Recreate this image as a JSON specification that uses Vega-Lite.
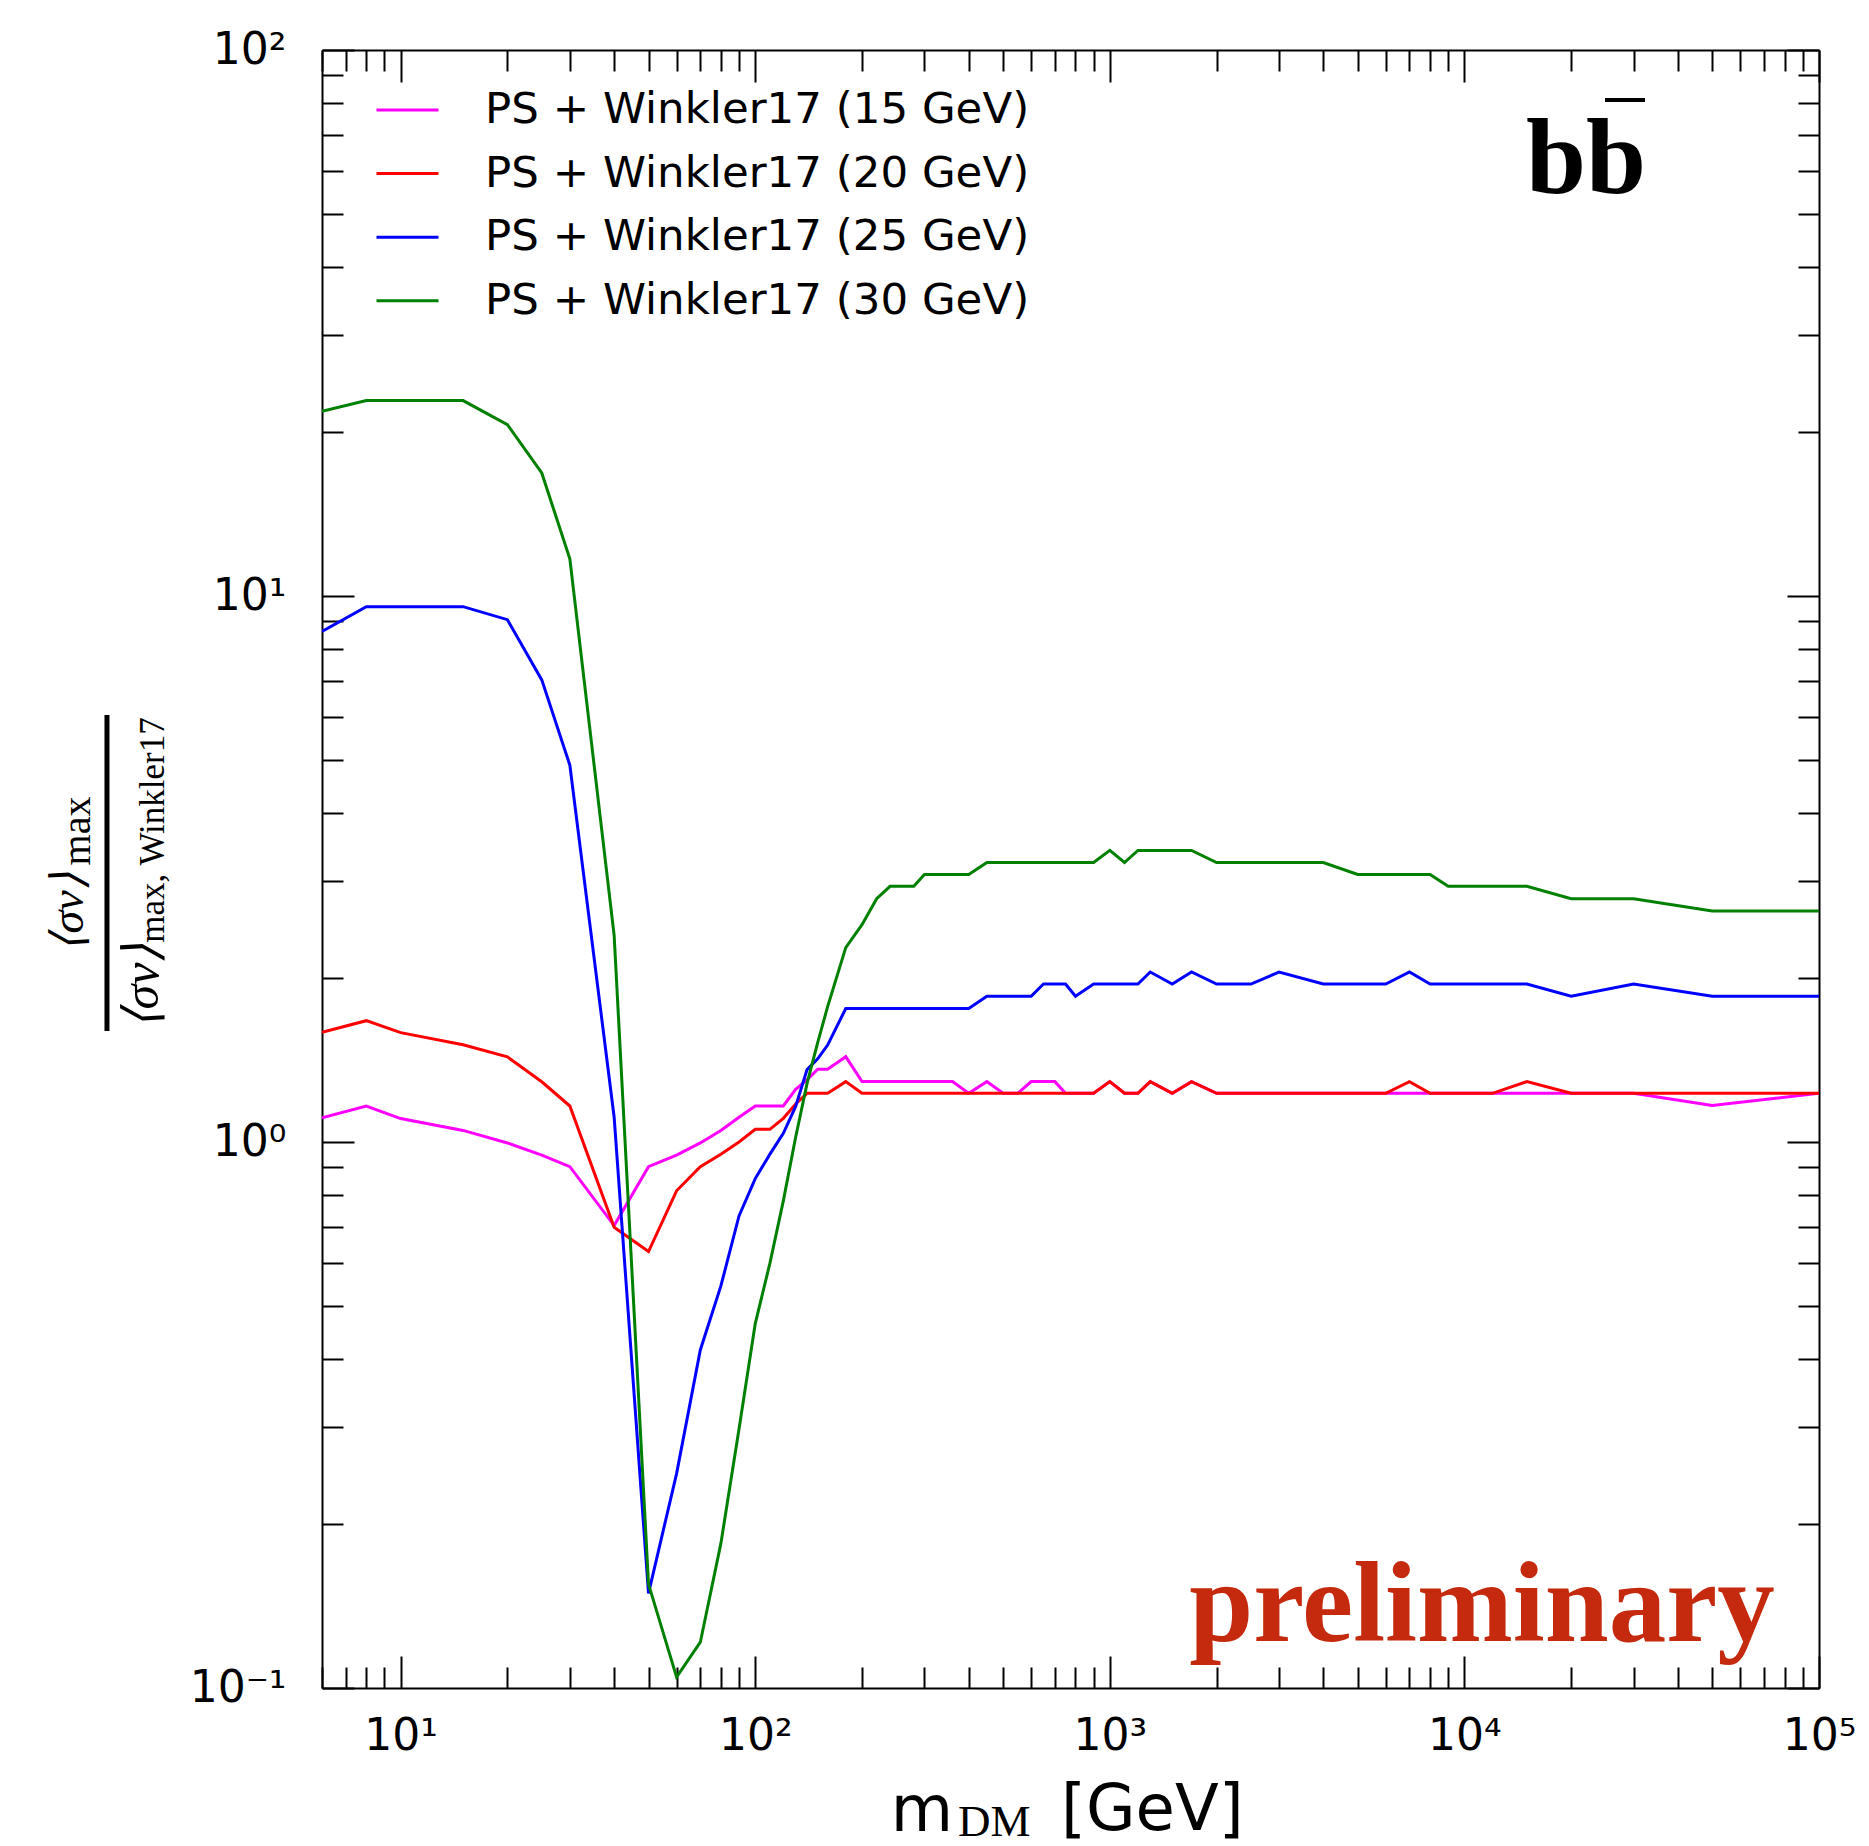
{
  "$schema": "https://vega.github.io/schema/vega-lite/v6.json",
  "width": 1497,
  "height": 1638,
  "autosize": {"type": "none"},
  "padding": {"left": 322, "top": 50, "right": 50, "bottom": 158},
  "background": "white",
  "config": {"view": {"stroke": null}},
  "datasets": {
    "curves": [
      {"m": 6, "PS + Winkler17 (15 GeV)": 1.108, "PS + Winkler17 (20 GeV)": 1.589, "PS + Winkler17 (25 GeV)": 8.61, "PS + Winkler17 (30 GeV)": 21.8},
      {"m": 8, "PS + Winkler17 (15 GeV)": 1.164, "PS + Winkler17 (20 GeV)": 1.668, "PS + Winkler17 (25 GeV)": 9.56, "PS + Winkler17 (30 GeV)": 22.8},
      {"m": 10, "PS + Winkler17 (15 GeV)": 1.104, "PS + Winkler17 (20 GeV)": 1.586, "PS + Winkler17 (25 GeV)": 9.56, "PS + Winkler17 (30 GeV)": 22.8},
      {"m": 15, "PS + Winkler17 (15 GeV)": 1.05, "PS + Winkler17 (20 GeV)": 1.507, "PS + Winkler17 (25 GeV)": 9.56, "PS + Winkler17 (30 GeV)": 22.8},
      {"m": 20, "PS + Winkler17 (15 GeV)": 0.996, "PS + Winkler17 (20 GeV)": 1.432, "PS + Winkler17 (25 GeV)": 9.05, "PS + Winkler17 (30 GeV)": 20.6},
      {"m": 25, "PS + Winkler17 (15 GeV)": 0.946, "PS + Winkler17 (20 GeV)": 1.289, "PS + Winkler17 (25 GeV)": 7.02, "PS + Winkler17 (30 GeV)": 16.8},
      {"m": 30, "PS + Winkler17 (15 GeV)": 0.901, "PS + Winkler17 (20 GeV)": 1.164, "PS + Winkler17 (25 GeV)": 4.9, "PS + Winkler17 (30 GeV)": 11.7},
      {"m": 40, "PS + Winkler17 (15 GeV)": 0.703, "PS + Winkler17 (20 GeV)": 0.698, "PS + Winkler17 (25 GeV)": 1.11, "PS + Winkler17 (30 GeV)": 2.39},
      {"m": 50, "PS + Winkler17 (15 GeV)": 0.901, "PS + Winkler17 (20 GeV)": 0.63, "PS + Winkler17 (25 GeV)": 0.149, "PS + Winkler17 (30 GeV)": 0.155},
      {"m": 60, "PS + Winkler17 (15 GeV)": 0.946, "PS + Winkler17 (20 GeV)": 0.814, "PS + Winkler17 (25 GeV)": 0.247, "PS + Winkler17 (30 GeV)": 0.1047},
      {"m": 70, "PS + Winkler17 (15 GeV)": 0.996, "PS + Winkler17 (20 GeV)": 0.901, "PS + Winkler17 (25 GeV)": 0.416, "PS + Winkler17 (30 GeV)": 0.1213},
      {"m": 80, "PS + Winkler17 (15 GeV)": 1.05, "PS + Winkler17 (20 GeV)": 0.95, "PS + Winkler17 (25 GeV)": 0.545, "PS + Winkler17 (30 GeV)": 0.184},
      {"m": 90, "PS + Winkler17 (15 GeV)": 1.11, "PS + Winkler17 (20 GeV)": 1.0, "PS + Winkler17 (25 GeV)": 0.732, "PS + Winkler17 (30 GeV)": 0.298},
      {"m": 100, "PS + Winkler17 (15 GeV)": 1.164, "PS + Winkler17 (20 GeV)": 1.055, "PS + Winkler17 (25 GeV)": 0.857, "PS + Winkler17 (30 GeV)": 0.465},
      {"m": 110, "PS + Winkler17 (15 GeV)": 1.164, "PS + Winkler17 (20 GeV)": 1.055, "PS + Winkler17 (25 GeV)": 0.95, "PS + Winkler17 (30 GeV)": 0.6},
      {"m": 120, "PS + Winkler17 (15 GeV)": 1.164, "PS + Winkler17 (20 GeV)": 1.105, "PS + Winkler17 (25 GeV)": 1.037, "PS + Winkler17 (30 GeV)": 0.78},
      {"m": 130, "PS + Winkler17 (15 GeV)": 1.249, "PS + Winkler17 (20 GeV)": 1.174, "PS + Winkler17 (25 GeV)": 1.162, "PS + Winkler17 (30 GeV)": 1.02},
      {"m": 140, "PS + Winkler17 (15 GeV)": 1.3, "PS + Winkler17 (20 GeV)": 1.228, "PS + Winkler17 (25 GeV)": 1.357, "PS + Winkler17 (30 GeV)": 1.28},
      {"m": 150, "PS + Winkler17 (15 GeV)": 1.359, "PS + Winkler17 (20 GeV)": 1.228, "PS + Winkler17 (25 GeV)": 1.42, "PS + Winkler17 (30 GeV)": 1.52},
      {"m": 160, "PS + Winkler17 (15 GeV)": 1.359, "PS + Winkler17 (20 GeV)": 1.228, "PS + Winkler17 (25 GeV)": 1.505, "PS + Winkler17 (30 GeV)": 1.77},
      {"m": 180, "PS + Winkler17 (15 GeV)": 1.433, "PS + Winkler17 (20 GeV)": 1.29, "PS + Winkler17 (25 GeV)": 1.756, "PS + Winkler17 (30 GeV)": 2.27},
      {"m": 200, "PS + Winkler17 (15 GeV)": 1.29, "PS + Winkler17 (20 GeV)": 1.228, "PS + Winkler17 (25 GeV)": 1.756, "PS + Winkler17 (30 GeV)": 2.5},
      {"m": 220, "PS + Winkler17 (15 GeV)": 1.29, "PS + Winkler17 (20 GeV)": 1.228, "PS + Winkler17 (25 GeV)": 1.756, "PS + Winkler17 (30 GeV)": 2.79},
      {"m": 240, "PS + Winkler17 (15 GeV)": 1.29, "PS + Winkler17 (20 GeV)": 1.228, "PS + Winkler17 (25 GeV)": 1.756, "PS + Winkler17 (30 GeV)": 2.94},
      {"m": 260, "PS + Winkler17 (15 GeV)": 1.29, "PS + Winkler17 (20 GeV)": 1.228, "PS + Winkler17 (25 GeV)": 1.756, "PS + Winkler17 (30 GeV)": 2.94},
      {"m": 280, "PS + Winkler17 (15 GeV)": 1.29, "PS + Winkler17 (20 GeV)": 1.228, "PS + Winkler17 (25 GeV)": 1.756, "PS + Winkler17 (30 GeV)": 2.94},
      {"m": 300, "PS + Winkler17 (15 GeV)": 1.29, "PS + Winkler17 (20 GeV)": 1.228, "PS + Winkler17 (25 GeV)": 1.756, "PS + Winkler17 (30 GeV)": 3.09},
      {"m": 330, "PS + Winkler17 (15 GeV)": 1.29, "PS + Winkler17 (20 GeV)": 1.228, "PS + Winkler17 (25 GeV)": 1.756, "PS + Winkler17 (30 GeV)": 3.09},
      {"m": 360, "PS + Winkler17 (15 GeV)": 1.29, "PS + Winkler17 (20 GeV)": 1.228, "PS + Winkler17 (25 GeV)": 1.756, "PS + Winkler17 (30 GeV)": 3.09},
      {"m": 400, "PS + Winkler17 (15 GeV)": 1.228, "PS + Winkler17 (20 GeV)": 1.228, "PS + Winkler17 (25 GeV)": 1.756, "PS + Winkler17 (30 GeV)": 3.09},
      {"m": 450, "PS + Winkler17 (15 GeV)": 1.29, "PS + Winkler17 (20 GeV)": 1.228, "PS + Winkler17 (25 GeV)": 1.849, "PS + Winkler17 (30 GeV)": 3.25},
      {"m": 500, "PS + Winkler17 (15 GeV)": 1.228, "PS + Winkler17 (20 GeV)": 1.228, "PS + Winkler17 (25 GeV)": 1.849, "PS + Winkler17 (30 GeV)": 3.25},
      {"m": 550, "PS + Winkler17 (15 GeV)": 1.228, "PS + Winkler17 (20 GeV)": 1.228, "PS + Winkler17 (25 GeV)": 1.849, "PS + Winkler17 (30 GeV)": 3.25},
      {"m": 600, "PS + Winkler17 (15 GeV)": 1.29, "PS + Winkler17 (20 GeV)": 1.228, "PS + Winkler17 (25 GeV)": 1.849, "PS + Winkler17 (30 GeV)": 3.25},
      {"m": 650, "PS + Winkler17 (15 GeV)": 1.29, "PS + Winkler17 (20 GeV)": 1.228, "PS + Winkler17 (25 GeV)": 1.947, "PS + Winkler17 (30 GeV)": 3.25},
      {"m": 700, "PS + Winkler17 (15 GeV)": 1.29, "PS + Winkler17 (20 GeV)": 1.228, "PS + Winkler17 (25 GeV)": 1.947, "PS + Winkler17 (30 GeV)": 3.25},
      {"m": 750, "PS + Winkler17 (15 GeV)": 1.228, "PS + Winkler17 (20 GeV)": 1.228, "PS + Winkler17 (25 GeV)": 1.947, "PS + Winkler17 (30 GeV)": 3.25},
      {"m": 800, "PS + Winkler17 (15 GeV)": 1.228, "PS + Winkler17 (20 GeV)": 1.228, "PS + Winkler17 (25 GeV)": 1.849, "PS + Winkler17 (30 GeV)": 3.25},
      {"m": 900, "PS + Winkler17 (15 GeV)": 1.228, "PS + Winkler17 (20 GeV)": 1.228, "PS + Winkler17 (25 GeV)": 1.947, "PS + Winkler17 (30 GeV)": 3.25},
      {"m": 1000, "PS + Winkler17 (15 GeV)": 1.29, "PS + Winkler17 (20 GeV)": 1.29, "PS + Winkler17 (25 GeV)": 1.947, "PS + Winkler17 (30 GeV)": 3.42},
      {"m": 1100, "PS + Winkler17 (15 GeV)": 1.228, "PS + Winkler17 (20 GeV)": 1.228, "PS + Winkler17 (25 GeV)": 1.947, "PS + Winkler17 (30 GeV)": 3.25},
      {"m": 1200, "PS + Winkler17 (15 GeV)": 1.228, "PS + Winkler17 (20 GeV)": 1.228, "PS + Winkler17 (25 GeV)": 1.947, "PS + Winkler17 (30 GeV)": 3.42},
      {"m": 1300, "PS + Winkler17 (15 GeV)": 1.29, "PS + Winkler17 (20 GeV)": 1.29, "PS + Winkler17 (25 GeV)": 2.048, "PS + Winkler17 (30 GeV)": 3.42},
      {"m": 1500, "PS + Winkler17 (15 GeV)": 1.228, "PS + Winkler17 (20 GeV)": 1.228, "PS + Winkler17 (25 GeV)": 1.947, "PS + Winkler17 (30 GeV)": 3.42},
      {"m": 1700, "PS + Winkler17 (15 GeV)": 1.29, "PS + Winkler17 (20 GeV)": 1.29, "PS + Winkler17 (25 GeV)": 2.048, "PS + Winkler17 (30 GeV)": 3.42},
      {"m": 2000, "PS + Winkler17 (15 GeV)": 1.228, "PS + Winkler17 (20 GeV)": 1.228, "PS + Winkler17 (25 GeV)": 1.947, "PS + Winkler17 (30 GeV)": 3.25},
      {"m": 2500, "PS + Winkler17 (15 GeV)": 1.228, "PS + Winkler17 (20 GeV)": 1.228, "PS + Winkler17 (25 GeV)": 1.947, "PS + Winkler17 (30 GeV)": 3.25},
      {"m": 3000, "PS + Winkler17 (15 GeV)": 1.228, "PS + Winkler17 (20 GeV)": 1.228, "PS + Winkler17 (25 GeV)": 2.048, "PS + Winkler17 (30 GeV)": 3.25},
      {"m": 4000, "PS + Winkler17 (15 GeV)": 1.228, "PS + Winkler17 (20 GeV)": 1.228, "PS + Winkler17 (25 GeV)": 1.947, "PS + Winkler17 (30 GeV)": 3.25},
      {"m": 5000, "PS + Winkler17 (15 GeV)": 1.228, "PS + Winkler17 (20 GeV)": 1.228, "PS + Winkler17 (25 GeV)": 1.947, "PS + Winkler17 (30 GeV)": 3.09},
      {"m": 6000, "PS + Winkler17 (15 GeV)": 1.228, "PS + Winkler17 (20 GeV)": 1.228, "PS + Winkler17 (25 GeV)": 1.947, "PS + Winkler17 (30 GeV)": 3.09},
      {"m": 7000, "PS + Winkler17 (15 GeV)": 1.228, "PS + Winkler17 (20 GeV)": 1.29, "PS + Winkler17 (25 GeV)": 2.048, "PS + Winkler17 (30 GeV)": 3.09},
      {"m": 8000, "PS + Winkler17 (15 GeV)": 1.228, "PS + Winkler17 (20 GeV)": 1.228, "PS + Winkler17 (25 GeV)": 1.947, "PS + Winkler17 (30 GeV)": 3.09},
      {"m": 9000, "PS + Winkler17 (15 GeV)": 1.228, "PS + Winkler17 (20 GeV)": 1.228, "PS + Winkler17 (25 GeV)": 1.947, "PS + Winkler17 (30 GeV)": 2.94},
      {"m": 10000, "PS + Winkler17 (15 GeV)": 1.228, "PS + Winkler17 (20 GeV)": 1.228, "PS + Winkler17 (25 GeV)": 1.947, "PS + Winkler17 (30 GeV)": 2.94},
      {"m": 12000, "PS + Winkler17 (15 GeV)": 1.228, "PS + Winkler17 (20 GeV)": 1.228, "PS + Winkler17 (25 GeV)": 1.947, "PS + Winkler17 (30 GeV)": 2.94},
      {"m": 15000, "PS + Winkler17 (15 GeV)": 1.228, "PS + Winkler17 (20 GeV)": 1.29, "PS + Winkler17 (25 GeV)": 1.947, "PS + Winkler17 (30 GeV)": 2.94},
      {"m": 20000, "PS + Winkler17 (15 GeV)": 1.228, "PS + Winkler17 (20 GeV)": 1.228, "PS + Winkler17 (25 GeV)": 1.849, "PS + Winkler17 (30 GeV)": 2.79},
      {"m": 30000, "PS + Winkler17 (15 GeV)": 1.228, "PS + Winkler17 (20 GeV)": 1.228, "PS + Winkler17 (25 GeV)": 1.947, "PS + Winkler17 (30 GeV)": 2.79},
      {"m": 50000, "PS + Winkler17 (15 GeV)": 1.166, "PS + Winkler17 (20 GeV)": 1.228, "PS + Winkler17 (25 GeV)": 1.849, "PS + Winkler17 (30 GeV)": 2.65},
      {"m": 100000, "PS + Winkler17 (15 GeV)": 1.228, "PS + Winkler17 (20 GeV)": 1.228, "PS + Winkler17 (25 GeV)": 1.849, "PS + Winkler17 (30 GeV)": 2.65}
    ]
  },
  "resolve": {"axis": {"x": "independent", "y": "independent"}},
  "layer": [
    {
      "data": {"name": "curves"},
      "transform": [
        {"fold": ["PS + Winkler17 (15 GeV)", "PS + Winkler17 (20 GeV)", "PS + Winkler17 (25 GeV)", "PS + Winkler17 (30 GeV)"], "as": ["series", "v"]}
      ],
      "mark": {"type": "line", "strokeWidth": 3, "clip": true},
      "encoding": {
        "x": {
          "field": "m", "type": "quantitative",
          "scale": {"type": "log", "domain": [6, 100000], "nice": false},
          "axis": {
            "orient": "bottom", "title": null, "grid": false,
            "values": [6,7,8,9,10,20,30,40,50,60,70,80,90,100,200,300,400,500,600,700,800,900,1000,2000,3000,4000,5000,6000,7000,8000,9000,10000,20000,30000,40000,50000,60000,70000,80000,90000,100000],
            "labelExpr": "datum.value == 10 ? '10¹' : datum.value == 100 ? '10²' : datum.value == 1000 ? '10³' : datum.value == 10000 ? '10⁴' : datum.value == 100000 ? '10⁵' : ''",
            "tickSize": {"condition": {"test": "indexof([10,100,1000,10000,100000], datum.value) >= 0", "value": -32}, "value": -21},
            "tickColor": "black", "tickWidth": 2, "domainColor": "black", "domainWidth": 2,
            "labelFont": "DejaVu Sans", "labelFontSize": 44, "labelColor": "black",
            "labelPadding": 58, "labelBaseline": "top", "labelAlign": "center",
            "labelOverlap": false, "labelFlush": false, "labelBound": false
          }
        },
        "y": {
          "field": "v", "type": "quantitative",
          "scale": {"type": "log", "domain": [0.1, 100], "nice": false},
          "axis": {
            "orient": "left", "title": null, "grid": false,
            "values": [0.1,0.2,0.3,0.4,0.5,0.6,0.7,0.8,0.9,1,2,3,4,5,6,7,8,9,10,20,30,40,50,60,70,80,90,100],
            "labelExpr": "datum.value == 0.1 ? '10⁻¹' : datum.value == 1 ? '10⁰' : datum.value == 10 ? '10¹' : datum.value == 100 ? '10²' : ''",
            "tickSize": {"condition": {"test": "indexof([0.1,1,10,100], datum.value) >= 0", "value": -32}, "value": -21},
            "tickColor": "black", "tickWidth": 2, "domainColor": "black", "domainWidth": 2,
            "labelFont": "DejaVu Sans", "labelFontSize": 44, "labelColor": "black",
            "labelPadding": 68, "labelBaseline": "middle", "labelAlign": "right",
            "labelOverlap": false, "labelFlush": false, "labelBound": false
          }
        },
        "color": {
          "field": "series", "type": "nominal",
          "scale": {
            "domain": ["PS + Winkler17 (15 GeV)", "PS + Winkler17 (20 GeV)", "PS + Winkler17 (25 GeV)", "PS + Winkler17 (30 GeV)"],
            "range": ["#ff00ff", "#ff0000", "#0000ff", "#008000"]
          },
          "legend": {
            "orient": "none", "legendX": 53, "legendY": 27.5, "title": null,
            "symbolType": "stroke", "symbolSize": 3844, "symbolStrokeWidth": 3,
            "labelFont": "DejaVu Sans", "labelFontSize": 43.5, "labelColor": "black",
            "labelOffset": 45, "rowPadding": 9.6, "padding": 0, "labelLimit": 0
          }
        }
      }
    },
    {
      "data": {"name": "curves"},
      "transform": [
        {"fold": ["PS + Winkler17 (15 GeV)", "PS + Winkler17 (20 GeV)", "PS + Winkler17 (25 GeV)", "PS + Winkler17 (30 GeV)"], "as": ["series", "v"]}
      ],
      "mark": {"type": "point", "opacity": 0, "size": 1},
      "encoding": {
        "x": {
          "field": "m", "type": "quantitative",
          "axis": {
            "orient": "top", "title": null, "grid": false, "labels": false,
            "values": [6,7,8,9,10,20,30,40,50,60,70,80,90,100,200,300,400,500,600,700,800,900,1000,2000,3000,4000,5000,6000,7000,8000,9000,10000,20000,30000,40000,50000,60000,70000,80000,90000,100000],
            "tickSize": {"condition": {"test": "indexof([10,100,1000,10000,100000], datum.value) >= 0", "value": -32}, "value": -21},
            "tickColor": "black", "tickWidth": 2, "domainColor": "black", "domainWidth": 2
          }
        },
        "y": {
          "field": "v", "type": "quantitative",
          "axis": {
            "orient": "right", "title": null, "grid": false, "labels": false,
            "values": [0.1,0.2,0.3,0.4,0.5,0.6,0.7,0.8,0.9,1,2,3,4,5,6,7,8,9,10,20,30,40,50,60,70,80,90,100],
            "tickSize": {"condition": {"test": "indexof([0.1,1,10,100], datum.value) >= 0", "value": -32}, "value": -21},
            "tickColor": "black", "tickWidth": 2, "domainColor": "black", "domainWidth": 2
          }
        }
      }
    },
    {
      "data": {"values": [{}]},
      "mark": {"type": "text", "text": "bb", "font": "Liberation Serif", "fontWeight": "bold", "fontSize": 108, "align": "center", "baseline": "alphabetic", "color": "black"},
      "encoding": {
        "x": {"datum": 22030, "type": "quantitative", "axis": null},
        "y": {"datum": 54.71, "type": "quantitative", "axis": null}
      }
    },
    {
      "data": {"values": [{}]},
      "mark": {"type": "rule", "strokeWidth": 4, "color": "black"},
      "encoding": {
        "x": {"datum": 24920, "type": "quantitative", "axis": null},
        "x2": {"datum": 32310},
        "y": {"datum": 80.97, "type": "quantitative", "axis": null}
      }
    },
    {
      "data": {"values": [{}]},
      "mark": {"type": "text", "text": "preliminary", "font": "Liberation Serif", "fontWeight": "bold", "fontSize": 115, "align": "center", "baseline": "alphabetic", "color": "#c62a0e"},
      "encoding": {
        "x": {"datum": 11210, "type": "quantitative", "axis": null},
        "y": {"datum": 0.1219, "type": "quantitative", "axis": null}
      }
    },
    {
      "data": {"values": [{}]},
      "mark": {"type": "text", "text": "m", "font": "DejaVu Sans", "fontSize": 64, "align": "left", "baseline": "alphabetic", "color": "black"},
      "encoding": {
        "x": {"datum": 241, "type": "quantitative", "axis": null},
        "y": {"datum": 0.0547, "type": "quantitative", "axis": null}
      }
    },
    {
      "data": {"values": [{}]},
      "mark": {"type": "text", "text": "DM", "font": "Liberation Serif", "fontSize": 45, "align": "left", "baseline": "alphabetic", "color": "black"},
      "encoding": {
        "x": {"datum": 373.2, "type": "quantitative", "axis": null},
        "y": {"datum": 0.05356, "type": "quantitative", "axis": null}
      }
    },
    {
      "data": {"values": [{}]},
      "mark": {"type": "text", "text": "[GeV]", "font": "DejaVu Sans", "fontSize": 64, "align": "left", "baseline": "alphabetic", "color": "black"},
      "encoding": {
        "x": {"datum": 728.4, "type": "quantitative", "axis": null},
        "y": {"datum": 0.05494, "type": "quantitative", "axis": null}
      }
    },
    {
      "data": {"values": [{}]},
      "mark": {"type": "text", "text": "⟨σv⟩", "font": "Liberation Serif", "fontStyle": "italic", "fontSize": 46, "angle": 270, "align": "center", "baseline": "alphabetic", "color": "black"},
      "encoding": {
        "x": {"datum": 1.271, "type": "quantitative", "axis": null},
        "y": {"datum": 2.638, "type": "quantitative", "axis": null}
      }
    },
    {
      "data": {"values": [{}]},
      "mark": {"type": "text", "text": "max", "font": "Liberation Serif", "fontSize": 40, "angle": 270, "align": "center", "baseline": "alphabetic", "color": "black"},
      "encoding": {
        "x": {"datum": 1.33, "type": "quantitative", "axis": null},
        "y": {"datum": 3.712, "type": "quantitative", "axis": null}
      }
    },
    {
      "data": {"values": [{}]},
      "mark": {"type": "rule", "strokeWidth": 5, "color": "black"},
      "encoding": {
        "x": {"datum": 1.485, "type": "quantitative", "axis": null},
        "y": {"datum": 6.055, "type": "quantitative", "axis": null},
        "y2": {"datum": 1.597}
      }
    },
    {
      "data": {"values": [{}]},
      "mark": {"type": "text", "text": "⟨σv⟩", "font": "Liberation Serif", "fontStyle": "italic", "fontSize": 50, "angle": 270, "align": "center", "baseline": "alphabetic", "color": "black"},
      "encoding": {
        "x": {"datum": 2.068, "type": "quantitative", "axis": null},
        "y": {"datum": 1.931, "type": "quantitative", "axis": null}
      }
    },
    {
      "data": {"values": [{}]},
      "mark": {"type": "text", "text": "max, Winkler17", "font": "Liberation Serif", "fontSize": 35, "angle": 270, "align": "center", "baseline": "alphabetic", "color": "black"},
      "encoding": {
        "x": {"datum": 2.15, "type": "quantitative", "axis": null},
        "y": {"datum": 3.728, "type": "quantitative", "axis": null}
      }
    }
  ]
}
